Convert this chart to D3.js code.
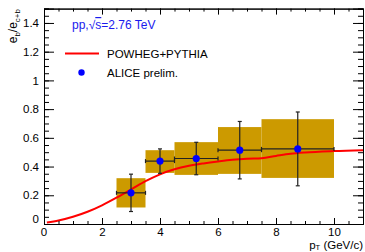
<!DOCTYPE html>
<html>
<head>
<meta charset="utf-8">
<script src="https://cdn.jsdelivr.net/npm/d3@7"></script>
<style>
  body { margin: 0; background: #fff; }
  text { font-family: "Liberation Sans", Arial, sans-serif; }
</style>
</head>
<body>
<div id="chart"></div>
<script>
// data points (ALICE prelim.)
var ptCenter = [3, 4, 5.25, 6.75, 8.75];
var binLow   = [2.5, 3.5, 4.5, 6, 7.5];
var binHigh  = [3.5, 4.5, 6, 7.5, 10];
var ratio    = [0.217, 0.438, 0.456, 0.514, 0.523];
var statErr  = [0.13, 0.085, 0.113, 0.2, 0.257];
var sysLow   = [0.115, 0.356, 0.342, 0.349, 0.321];
var sysHigh  = [0.319, 0.514, 0.570, 0.675, 0.730];

// POWHEG+PYTHIA curve
var curveX = [0.1, 0.5, 1, 1.5, 2, 2.5, 3, 3.5, 4, 4.5, 5, 5.5, 6, 6.5, 7, 7.5, 8, 8.5, 9, 10, 11];
var curveY = [0.01, 0.024, 0.05, 0.085, 0.13, 0.183, 0.24, 0.298, 0.346, 0.381, 0.405, 0.422, 0.436, 0.448, 0.455, 0.458, 0.474, 0.489, 0.498, 0.508, 0.514];

var xTicks = [0, 2, 4, 6, 8, 10];
var yTicks = [0, 0.2, 0.4, 0.6, 0.8, 1, 1.2, 1.4];

var W = 365, H = 252;
var x = d3.scaleLinear().domain([0, 11]).range([44, 363]);
var y = d3.scaleLinear().domain([0, 1.5]).range([224, 8.6]);

var svg = d3.select("#chart").append("svg")
    .attr("width", W)
    .attr("height", H);

// systematic boxes
svg.selectAll(".sys")
    .data(ptCenter)
    .enter().append("rect")
    .attr("x", function (d, i) { return x(binLow[i]); })
    .attr("width", function (d, i) { return x(binHigh[i]) - x(binLow[i]); })
    .attr("y", function (d, i) { return y(sysHigh[i]); })
    .attr("height", function (d, i) { return y(sysLow[i]) - y(sysHigh[i]); })
    .attr("fill", "#cc9a00");

// curve
var line = d3.line()
    .x(function (d) { return x(d[0]); })
    .y(function (d) { return y(d[1]); })
    .curve(d3.curveMonotoneX);
svg.append("path")
    .datum(curveX.map(function (v, i) { return [v, curveY[i]]; }))
    .attr("d", line)
    .attr("fill", "none")
    .attr("stroke", "#ff0000")
    .attr("stroke-width", 2);

// error bars
var eb = svg.append("g").attr("stroke", "#222").attr("stroke-width", 1.2);
ptCenter.forEach(function (c, i) {
    eb.append("line")
        .attr("x1", x(binLow[i])).attr("x2", x(binHigh[i]))
        .attr("y1", y(ratio[i])).attr("y2", y(ratio[i]));
    eb.append("line")
        .attr("x1", x(c)).attr("x2", x(c))
        .attr("y1", y(ratio[i] - statErr[i])).attr("y2", y(ratio[i] + statErr[i]));
    // end caps
    [binLow[i], binHigh[i]].forEach(function (b) {
        eb.append("line")
            .attr("x1", x(b)).attr("x2", x(b))
            .attr("y1", y(ratio[i]) - 2).attr("y2", y(ratio[i]) + 2);
    });
    [ratio[i] - statErr[i], ratio[i] + statErr[i]].forEach(function (v) {
        eb.append("line")
            .attr("x1", x(c) - 2).attr("x2", x(c) + 2)
            .attr("y1", y(v)).attr("y2", y(v));
    });
});

svg.selectAll(".pt")
    .data(ptCenter)
    .enter().append("circle")
    .attr("cx", function (d) { return x(d); })
    .attr("cy", function (d, i) { return y(ratio[i]); })
    .attr("r", 3.6)
    .attr("fill", "#0000ff");

// axes, ROOT style ticks inside frame
var xMinor = d3.range(0, 11.01, 0.5);
var yMinor = d3.range(0, 1.501, 0.05);
var axBottom = svg.append("g").attr("transform", "translate(0," + y(0) + ")")
    .call(d3.axisTop(x).tickValues(xMinor).tickSize(3).tickFormat(""));
axBottom.append("g").call(d3.axisTop(x).tickValues(xTicks).tickSize(6).tickFormat(""));
svg.append("g").attr("transform", "translate(0," + y(0) + ")")
    .call(d3.axisBottom(x).tickValues(xTicks.slice(1)).tickSize(0).tickPadding(4).tickFormat(d3.format("")))
    .call(function (g) { g.select(".domain").remove(); });

var axTop = svg.append("g").attr("transform", "translate(0," + y(1.5) + ")")
    .call(d3.axisBottom(x).tickValues(xMinor).tickSize(3).tickFormat(""));
axTop.append("g").call(d3.axisBottom(x).tickValues(xTicks).tickSize(6).tickFormat(""));

var axLeft = svg.append("g").attr("transform", "translate(" + x(0) + ",0)")
    .call(d3.axisRight(y).tickValues(yMinor).tickSize(5).tickFormat(""));
axLeft.append("g").call(d3.axisRight(y).tickValues(yTicks).tickSize(10).tickFormat(""));
svg.append("g").attr("transform", "translate(" + x(0) + ",0)")
    .call(d3.axisLeft(y).tickValues(yTicks.slice(1)).tickSize(0).tickPadding(5).tickFormat(d3.format("")))
    .call(function (g) { g.select(".domain").remove(); });

var axRight = svg.append("g").attr("transform", "translate(" + x(11) + ",0)")
    .call(d3.axisLeft(y).tickValues(yMinor).tickSize(5).tickFormat(""));
axRight.append("g").call(d3.axisLeft(y).tickValues(yTicks).tickSize(10).tickFormat(""));

svg.selectAll(".domain").attr("stroke", "#000");
svg.selectAll(".tick line").attr("stroke", "#000");
svg.selectAll(".tick text").attr("font-size", 11.5).attr("fill", "#000")
    .attr("font-family", "Liberation Sans, Arial, sans-serif");

// zero labels (ROOT places them at the corner)
svg.append("text").attr("x", x(0) - 5).attr("y", y(0) - 1).attr("text-anchor", "end")
    .attr("font-size", 11.5).text("0");
svg.append("text").attr("x", x(0)).attr("y", y(0) + 11.5).attr("text-anchor", "middle")
    .attr("font-size", 11.5).text("0");

// axis titles
var xt = svg.append("text").attr("x", 363).attr("y", 248.5).attr("text-anchor", "end")
    .attr("font-size", 11.5);
xt.append("tspan").text("p");
xt.append("tspan").attr("font-size", 7.5).attr("dy", 1.5).text("T");
xt.append("tspan").attr("dy", -1.5).text(" (GeV/c)");

var yt = svg.append("text").attr("transform", "translate(17,9) rotate(-90)")
    .attr("text-anchor", "end").attr("font-size", 12);
yt.append("tspan").text("e");
yt.append("tspan").attr("font-size", 8).attr("dy", 3).text("b");
yt.append("tspan").attr("dy", -3).text("/e");
yt.append("tspan").attr("font-size", 8).attr("dy", 3).text("c+b");

// legend
var energy = svg.append("text").attr("x", 72).attr("y", 29).attr("font-size", 12).attr("fill", "#1a1aee");
energy.append("tspan").text("pp,√");
energy.append("tspan").attr("text-decoration", "overline").text("s");
energy.append("tspan").text("=2.76 TeV");

svg.append("line").attr("x1", 65).attr("x2", 99).attr("y1", 53.5).attr("y2", 53.5)
    .attr("stroke", "#ff0000").attr("stroke-width", 2);
svg.append("text").attr("x", 107).attr("y", 58).attr("font-size", 11.5).text("POWHEG+PYTHIA");
svg.append("circle").attr("cx", 81.5).attr("cy", 72.5).attr("r", 3.2).attr("fill", "#0000ff");
svg.append("text").attr("x", 107).attr("y", 77).attr("font-size", 11.5).text("ALICE prelim.");
</script>
</body>
</html>
